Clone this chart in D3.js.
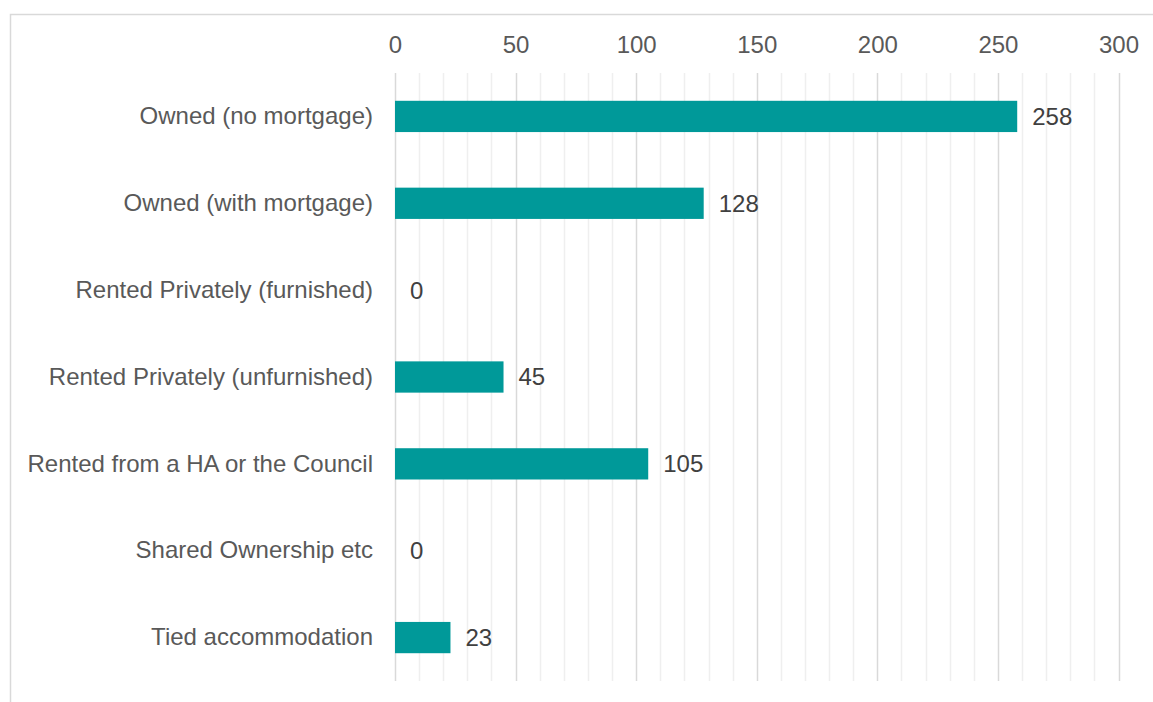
<!DOCTYPE html>
<html>
<head>
<meta charset="utf-8">
<script src="https://cdn.jsdelivr.net/npm/d3@7"></script>
<style>
  body { margin: 0; background: #fff; }
  text { font-family: "Liberation Sans", Arial, sans-serif; }
</style>
</head>
<body>
<script>
const categories = [
    'Owned (no mortgage)',
    'Owned (with mortgage)',
    'Rented Privately (furnished)',
    'Rented Privately (unfurnished)',
    'Rented from a HA or the Council',
    'Shared Ownership etc',
    'Tied accommodation'
]
const values = [258, 128, 0, 45, 105, 0, 23]
const majorTicks = [0, 50, 100, 150, 200, 250, 300]

const w = 1153
const h = 702
const pLeft = 395
const pRight = 1118.5
const pTop = 73
const pBottom = 681
const fontSize = '24px'

const svg = d3.select('body')
    .append('svg')
    .attr('width', w)
    .attr('height', h)

// chart border (right and bottom run off the picture)
svg.append('rect')
    .attr('x', 10.5)
    .attr('y', 14.5)
    .attr('width', w)
    .attr('height', h)
    .attr('fill', 'none')
    .attr('stroke', '#d9d9d9')
    .attr('stroke-width', 1.5)

const xScale = d3.scaleLinear()
    .domain([0, 300])
    .range([pLeft, pRight])

const yScale = d3.scaleBand()
    .domain(categories)
    .range([pTop, pBottom])
    .paddingInner(0.64)
    .paddingOuter(0.32)

// minor gridlines every 10
const minor = d3.range(0, 301, 10).filter(v => v % 50 !== 0)
svg.append('g')
    .selectAll('line')
    .data(minor)
    .enter()
    .append('line')
    .attr('x1', d => Math.round(xScale(d)) + 0.5)
    .attr('x2', d => Math.round(xScale(d)) + 0.5)
    .attr('y1', pTop)
    .attr('y2', pBottom)
    .attr('stroke', '#efefef')
    .attr('stroke-width', 1.5)

// major gridlines
svg.append('g')
    .selectAll('line')
    .data(majorTicks)
    .enter()
    .append('line')
    .attr('x1', d => Math.round(xScale(d)) + 0.5)
    .attr('x2', d => Math.round(xScale(d)) + 0.5)
    .attr('y1', pTop)
    .attr('y2', pBottom)
    .attr('stroke', '#d9d9d9')
    .attr('stroke-width', 1.5)

// top axis labels
const xAxis = d3.axisTop(xScale).tickValues(majorTicks).tickSize(0).tickPadding(0)
const gx = svg.append('g')
    .attr('transform', 'translate(0,53)')
    .call(xAxis)
gx.select('.domain').remove()
gx.selectAll('text')
    .attr('dy', 0)
    .style('font-size', fontSize)
    .style('font-family', '"Liberation Sans", Arial, sans-serif')
    .attr('fill', '#595959')

// category labels
const yAxis = d3.axisLeft(yScale).tickSize(0).tickPadding(22)
const gy = svg.append('g')
    .attr('transform', `translate(${pLeft},0)`)
    .call(yAxis)
gy.select('.domain').remove()
gy.selectAll('text')
    .style('font-size', fontSize)
    .style('font-family', '"Liberation Sans", Arial, sans-serif')
    .attr('fill', '#595959')

// bars
svg.selectAll('rect.bar')
    .data(values)
    .enter()
    .append('rect')
    .attr('class', 'bar')
    .attr('x', xScale(0))
    .attr('y', (d, i) => yScale(categories[i]))
    .attr('width', d => xScale(d) - xScale(0))
    .attr('height', yScale.bandwidth())
    .attr('fill', '#009999')

// value labels
svg.selectAll('text.val')
    .data(values)
    .enter()
    .append('text')
    .attr('class', 'val')
    .attr('x', d => xScale(d) + 15)
    .attr('y', (d, i) => yScale(categories[i]) + yScale.bandwidth() / 2)
    .attr('dy', '0.35em')
    .style('font-size', fontSize)
    .attr('fill', '#404040')
    .text(d => d)
</script>
</body>
</html>
